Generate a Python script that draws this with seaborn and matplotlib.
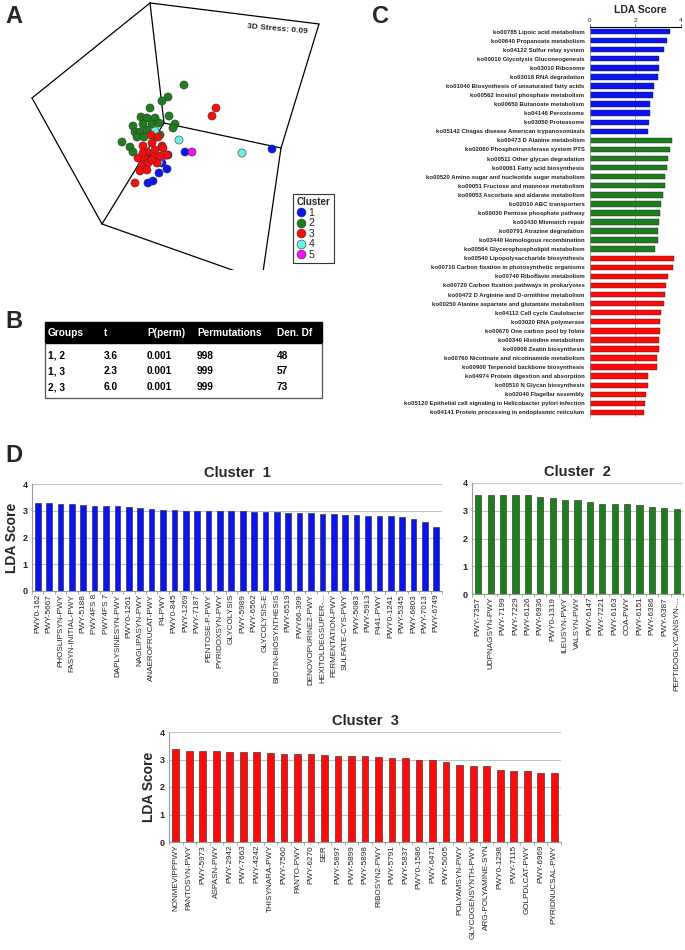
import numpy as np
import pandas as pd
import matplotlib.pyplot as plt
from matplotlib.patches import Rectangle
import seaborn as sns

sns.set_theme(style="white")
plt.rcParams['font.family'] = ['Liberation Sans', 'DejaVu Sans']

W, H = 685, 950

# ==========================
# Data
# ==========================

# panel A - NMDS points (projected plot coordinates)
c1_x = [272, 185, 168, 162, 167, 159, 153, 148, 147]
c1_y = [149, 152, 155, 163, 169, 173, 181, 183, 153]
c2_x = [184, 168, 162, 150, 169, 141, 147, 155, 133, 143, 152, 159, 175, 173, 135, 140, 147, 160, 137, 144, 122, 130, 133, 157]
c2_y = [85, 97, 101, 108, 116, 117, 118, 118, 126, 124, 124, 123, 124, 128, 132, 132, 130, 135, 137, 137, 142, 147, 152, 137]
c3_x = [216, 212, 151, 158, 143, 152, 162, 147, 155, 163, 167, 138, 145, 153, 160, 142, 148, 157, 147, 140, 135, 152, 143]
c3_y = [108, 116, 135, 137, 146, 143, 146, 152, 150, 148, 155, 158, 159, 157, 156, 165, 163, 163, 170, 171, 183, 160, 153]
c4_x = [179, 242, 155, 159]
c4_y = [140, 153, 131, 162]
c5_x = [192, 162]
c5_y = [152, 157]

# wireframe of the 3D box
box_x = [[150, 319], [150, 32], [32, 102], [150, 164], [164, 102], [164, 281], [281, 319], [281, 263], [102, 238]]
box_y = [[3, 24], [3, 98], [98, 224], [3, 123], [123, 224], [123, 148], [148, 24], [148, 272], [224, 272]]

# panel B - PERMANOVA pairwise table
table_cols = ["Groups", "t", "P(perm)", "Permutations", "Den. Df"]
pair_groups = ["1, 2", "1, 3", "2, 3"]
t_vals = ["3.6", "2.3", "6.0"]
p_perm = ["0.001", "0.001", "0.001"]
permutations = ["998", "999", "999"]
den_df = ["48", "57", "73"]

# panel C - KEGG LDA scores
ko_blue = ["ko00785 Lipoic acid metabolism", "ko00640 Propanoate metabolism", "ko04122 Sulfur relay system",
           "ko00010 Glycolysis Gluconeogenesis", "ko03010 Ribosome", "ko03018 RNA degradation",
           "ko01040 Biosynthesis of unsaturated fatty acids", "ko00562 Inositol phosphate metabolism",
           "ko00650 Butanoate metabolism", "ko04146 Peroxisome", "ko03050 Proteasome",
           "ko05142 Chagas disease American trypanosomiasis"]
lda_blue = [3.53, 3.38, 3.26, 3.07, 3.05, 3.01, 2.81, 2.79, 2.64, 2.64, 2.62, 2.55]
ko_green = ["ko00473 D Alanine metabolism", "ko02060 Phosphotransferase system PTS", "ko00511 Other glycan degradation",
            "ko00061 Fatty acid biosynthesis", "ko00520 Amino sugar and nucleotide sugar metabolism",
            "ko00051 Fructose and mannose metabolism", "ko00053 Ascorbate and aldarate metabolism",
            "ko02010 ABC transporters", "ko00030 Pentose phosphate pathway", "ko03430 Mismatch repair",
            "ko00791 Atrazine degradation", "ko03440 Homologous recombination",
            "ko00564 Glycerophospholipid metabolism"]
lda_green = [3.63, 3.53, 3.45, 3.41, 3.33, 3.32, 3.23, 3.14, 3.11, 3.07, 3.01, 3.01, 2.87]
ko_red = ["ko00540 Lipopolysaccharide biosynthesis", "ko00710 Carbon fixation in photosynthetic organisms",
          "ko00740 Riboflavin metabolism", "ko00720 Carbon fixation pathways in prokaryotes",
          "ko00472 D Arginine and D-ornithine metabolism", "ko00250 Alanine aspartate and glutamate metabolism",
          "ko04112 Cell cycle Caulobacter", "ko03020 RNA polymerase", "ko00670 One carbon pool by folate",
          "ko00340 Histidine metabolism", "ko00908 Zeatin biosynthesis",
          "ko00760 Nicotinate and nicotinamide metabolism", "ko00900 Terpenoid backbone biosynthesis",
          "ko04974 Protein digestion and absorption", "ko00510 N Glycan biosynthesis",
          "ko02040 Flagellar assembly", "ko05120 Epithelial cell signaling in Helicobacter pylori infection",
          "ko04141 Protein processing in endoplasmic reticulum"]
lda_red = [3.70, 3.67, 3.44, 3.36, 3.32, 3.29, 3.13, 3.11, 3.10, 3.07, 3.04, 2.96, 2.95, 2.56, 2.55, 2.47, 2.44, 2.40]

# panel D - MetaCyc pathway LDA scores
pw_c1 = ["PWY0-162", "PWY-5667", "PHOSLIPSYN-PWY", "FASYN-INITIAL-PWY", "PWY-5188", "PWY4FS 8", "PWY4FS 7",
         "DAPLYSINESYN-PWY", "PWY0-1261", "NAGLIPASYN-PWY", "ANAEROFRUCAT-PWY", "P4-PWY", "PWY0-845",
         "PWY-1269", "PWY-7187", "PENTOSE-P-PWY", "PYRIDOXSYN-PWY", "GLYCOLYSIS", "PWY-5989", "PWY-6562",
         "GLYCOLYSIS-E", "BIOTIN-BIOSYNTHESIS", "PWY-6519", "PWY66-399", "DENOVOPURINE2-PWY",
         "HEXITOLDEGSUPER-...", "FERMENTATION-PWY", "SULFATE-CYS-PWY", "PWY-5083", "PWY-5913", "P441-PWY",
         "PWY0-1241", "PWY-5345", "PWY-6803", "PWY-7013", "PWY-6749"]
lda_c1 = [3.30, 3.28, 3.25, 3.24, 3.21, 3.19, 3.19, 3.16, 3.13, 3.09, 3.05, 3.03, 3.03, 2.99, 2.99, 2.99,
          2.98, 2.99, 2.99, 2.95, 2.95, 2.95, 2.91, 2.90, 2.90, 2.86, 2.86, 2.83, 2.83, 2.80, 2.80, 2.80,
          2.78, 2.69, 2.59, 2.41]
pw_c2 = ["PWY-7357", "UDPNAGSYN-PWY", "PWY-7199", "PWY-7229", "PWY-6126", "PWY-6936", "PWY0-1319",
         "ILEUSYN-PWY", "VALSYN-PWY", "PWY-6147", "PWY-7221", "PWY-6163", "COA-PWY", "PWY-6151",
         "PWY-6386", "PWY-6387", "PEPTIDOGLYCANSYN-..."]
lda_c2 = [3.57, 3.57, 3.55, 3.55, 3.55, 3.49, 3.45, 3.37, 3.37, 3.31, 3.26, 3.24, 3.23, 3.20, 3.15, 3.11, 3.08]
pw_c3 = ["NONMEVIPPPWY", "PANTOSYN-PWY", "PWY-5973", "ASPASN-PWY", "PWY-2942", "PWY-7663", "PWY-4242",
         "THISYNARA-PWY", "PWY-7560", "PANTO-PWY", "PWY-6270", "SER", "PWY-5897", "PWY-5899", "PWY-5898",
         "RIBOSYN2-PWY", "PWY-5791", "PWY-5837", "PWY0-1586", "PWY-6471", "PWY-5005", "POLYAMSYN-PWY",
         "GLYCOGENSYNTH-PWY", "ARG-POLYAMINE-SYN", "PWY0-1298", "PWY-7115", "GOLPDLCAT-PWY", "PWY-6969",
         "PYRIDNUCSAL-PWY"]
lda_c3 = [3.37, 3.30, 3.30, 3.30, 3.27, 3.27, 3.27, 3.25, 3.21, 3.21, 3.20, 3.15, 3.12, 3.12, 3.12, 3.10,
          3.04, 3.04, 2.99, 2.98, 2.90, 2.80, 2.78, 2.75, 2.61, 2.58, 2.57, 2.52, 2.50]

cluster_colors = {"1": "#0a14f0", "2": "#1e7d1e", "3": "#ff0a0a", "4": "#70f0e6", "5": "#f010f0"}


def px_axes(left, top, right, bottom):
    return fig.add_axes([left / W, 1 - bottom / H, (right - left) / W, (bottom - top) / H])


fig = plt.figure(figsize=(W / 100, H / 100), dpi=100)

# ==========================
# Panel A
# ==========================
axa = px_axes(0, 0, 340, 270)
for bx, by in zip(box_x, box_y):
    axa.plot(bx, by, color="black", lw=0.9, zorder=1)

nmds = pd.concat([
    pd.DataFrame({"x": c2_x, "y": c2_y, "Cluster": "2"}),
    pd.DataFrame({"x": c1_x, "y": c1_y, "Cluster": "1"}),
    pd.DataFrame({"x": c4_x, "y": c4_y, "Cluster": "4"}),
    pd.DataFrame({"x": c5_x, "y": c5_y, "Cluster": "5"}),
    pd.DataFrame({"x": c3_x, "y": c3_y, "Cluster": "3"}),
])
sns.scatterplot(data=nmds, x="x", y="y", hue="Cluster", hue_order=["1", "2", "3", "4", "5"],
                palette=cluster_colors, s=34, edgecolor="#333333", linewidth=0.4, ax=axa, zorder=3)
axa.set_xlim(0, 340)
axa.set_ylim(270, 0)
axa.axis("off")
axa.text(277, 29, "3D Stress: 0.09", fontsize=6, fontweight="bold", ha="center", va="center", rotation=-5)
leg = axa.legend(title="Cluster", loc="lower left", bbox_to_anchor=(0.845, 0.005), fontsize=7.5,
                 title_fontproperties={"weight": "bold", "size": 7}, frameon=True, fancybox=False,
                 handletextpad=0.2, borderpad=0.35, labelspacing=0.05, handlelength=1.0, markerscale=1.1)
leg.get_frame().set_edgecolor("black")
leg.get_frame().set_linewidth(0.8)
leg._legend_box.align = "left"

# ==========================
# Panel B
# ==========================
axb = px_axes(0, 295, 340, 410)
axb.set_xlim(0, 340)
axb.set_ylim(410, 295)
axb.axis("off")
axb.add_patch(Rectangle((45, 322), 277, 21, color="black"))
axb.plot([45, 45, 322, 322], [343, 398, 398, 343], color="#555555", lw=0.9)
col_x = [48, 104, 147, 197, 277]
for cx, name in zip(col_x, table_cols):
    axb.text(cx, 333, name, color="white", fontsize=7.3, fontweight="bold", va="center")
rows = list(zip(pair_groups, t_vals, p_perm, permutations, den_df))
for ry, row in zip([356, 371, 387], rows):
    for cx, val in zip(col_x, row):
        axb.text(cx, ry, val, color="black", fontsize=7.3, fontweight="bold", va="center")

# ==========================
# Panel C
# ==========================
kegg = pd.DataFrame({
    "pathway": ko_blue + ko_green + ko_red,
    "score": lda_blue + lda_green + lda_red,
    "Cluster": ["1"] * len(ko_blue) + ["2"] * len(ko_green) + ["3"] * len(ko_red),
})
axc = px_axes(590, 27, 681, 417)
sns.barplot(data=kegg, x="score", y="pathway", hue="Cluster", palette=cluster_colors, dodge=False,
            width=0.6, saturation=1, edgecolor="#222222", linewidth=0.3, legend=False, ax=axc)
axc.set_xlim(0, 4.02)
axc.set_xticks([0, 2, 4])
axc.xaxis.tick_top()
axc.tick_params(axis="x", labelsize=4.5, length=2, width=0.5, pad=1, top=True, bottom=False)
axc.tick_params(axis="y", labelsize=4.3, length=0, pad=4)
for lab in axc.get_yticklabels():
    lab.set_fontweight("bold")
axc.grid(axis="x", color="#b0b0b0", lw=0.6)
axc.set_axisbelow(True)
axc.set_xlabel("")
axc.set_ylabel("")
for side in ["right", "bottom"]:
    axc.spines[side].set_visible(False)
axc.spines["top"].set_color("black")
axc.spines["top"].set_linewidth(0.8)
axc.spines["left"].set_color("#999999")
axc.spines["left"].set_linewidth(0.5)
fig.text(640 / W, 1 - 10 / H, "LDA Score", fontsize=7.5, fontweight="bold", ha="center", va="center")

# ==========================
# Panel D
# ==========================
def cluster_bars(ax, names, scores, color, title, ylabel):
    sns.barplot(x=names, y=scores, color=color, width=0.5, saturation=1, edgecolor="#222222",
                linewidth=0.4, ax=ax)
    ax.set_ylim(0, 4)
    ax.set_yticks([0, 1, 2, 3, 4])
    ax.set_xlim(-0.5, len(names) - 0.5)
    ax.grid(axis="y", color="#c4c4c4", lw=0.8)
    ax.set_axisbelow(True)
    ax.tick_params(axis="x", labelrotation=90, labelsize=5.9, length=0, pad=2)
    ax.tick_params(axis="y", labelsize=6.5, length=0, pad=3)
    for lab in ax.get_yticklabels():
        lab.set_fontweight("bold")
    ax.set_xticks(np.arange(len(names) + 1) - 0.5, minor=True)
    ax.tick_params(axis="x", which="minor", length=2.5, width=0.5, color="#888888", bottom=True)
    for side in ["top", "right"]:
        ax.spines[side].set_visible(False)
    for side in ["left", "bottom"]:
        ax.spines[side].set_color("#999999")
        ax.spines[side].set_linewidth(0.8)
    ax.set_title(title, fontsize=10.5, fontweight="bold", pad=5)
    ax.set_ylabel(ylabel, fontsize=10, fontweight="bold", labelpad=3)


axd1 = px_axes(32, 484, 442, 591)
cluster_bars(axd1, pw_c1, lda_c1, cluster_colors["1"], "Cluster  1", "LDA Score")
axd2 = px_axes(472, 483, 683, 594)
cluster_bars(axd2, pw_c2, lda_c2, cluster_colors["2"], "Cluster  2", "")
axd3 = px_axes(169, 732, 561, 842)
cluster_bars(axd3, pw_c3, lda_c3, cluster_colors["3"], "Cluster  3", "LDA Score")

# panel letters
for letter, lx, ly in [("A", 5, 5), ("B", 5, 310), ("C", 372, 5), ("D", 5, 444)]:
    fig.text(lx / W, 1 - ly / H, letter, fontsize=17, fontweight="bold", ha="left", va="top")

plt.savefig("out.png", dpi=100)
